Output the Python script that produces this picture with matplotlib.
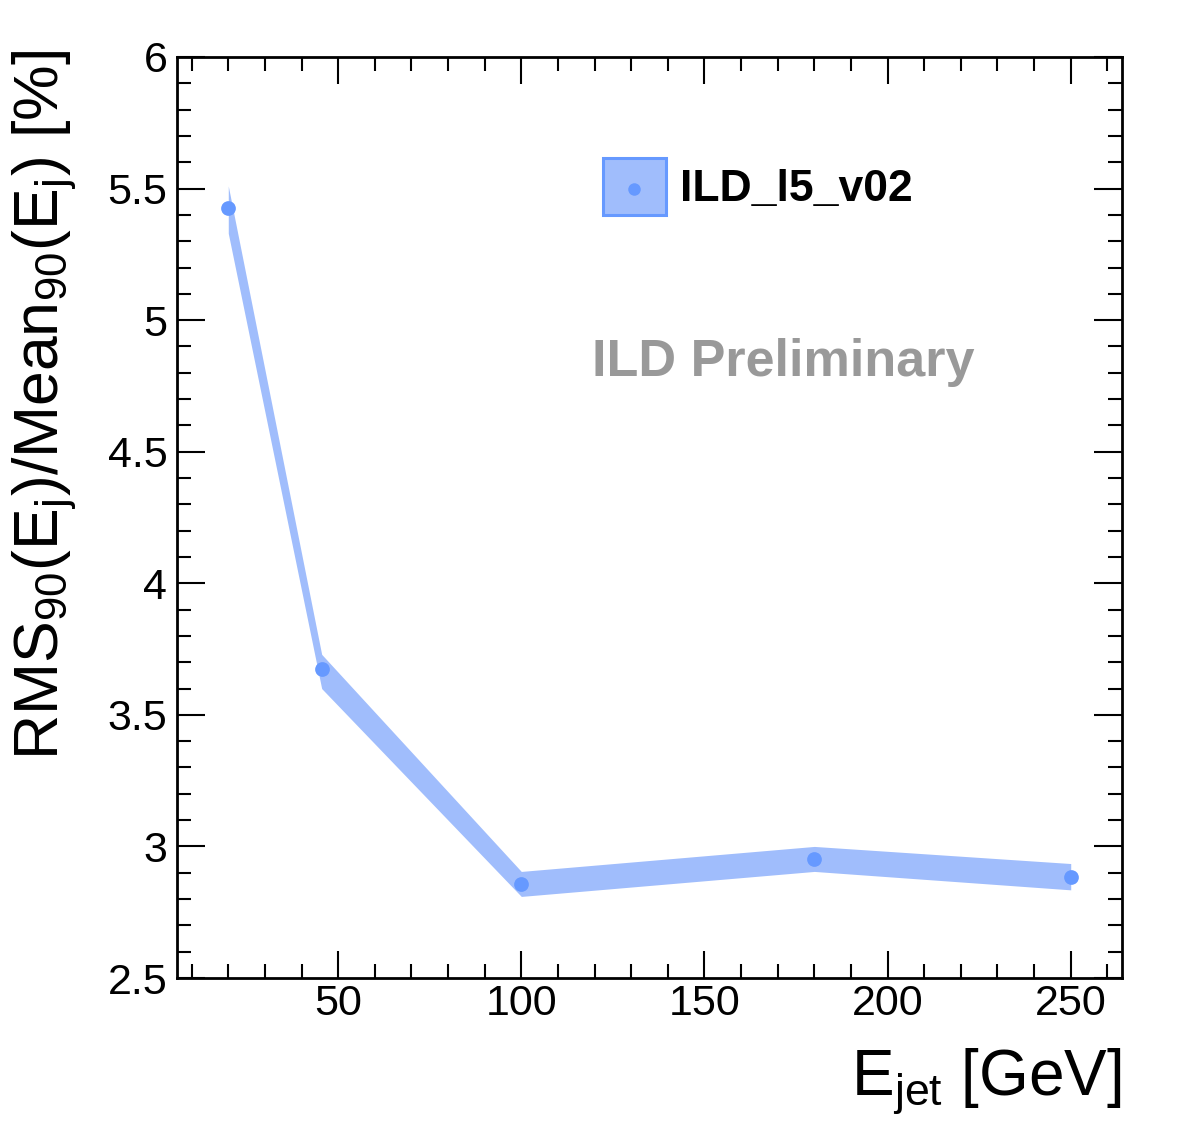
import matplotlib
matplotlib.use("Agg")
import matplotlib.pyplot as plt
from matplotlib.patches import Rectangle
from matplotlib.ticker import MultipleLocator

# Data
energies = [20, 45.5, 100, 180, 250]
resolution = [5.425, 3.673, 2.857, 2.952, 2.883]
band_upper = [5.51, 3.73, 2.905, 3.00, 2.935]
band_lower = [5.33, 3.60, 2.810, 2.905, 2.835]
series_label = "ILD_l5_v02"

blue = "#6699ff"
band_col = "#a0bdfc"

plt.rcParams['font.family'] = ['Liberation Sans', 'DejaVu Sans']
plt.rcParams['mathtext.fontset'] = 'custom'
plt.rcParams['mathtext.rm'] = 'Liberation Sans'
plt.rcParams['mathtext.it'] = 'Liberation Sans'
plt.rcParams['mathtext.bf'] = 'Liberation Sans:bold'

fig = plt.figure(figsize=(11.82, 11.38), dpi=100)
ax = fig.add_axes([177/1182, 1 - 978/1138, 945/1182, 921/1138])

ax.fill_between(energies, band_lower, band_upper, color=band_col, linewidth=0, zorder=2)
ax.plot(energies, resolution, linestyle='none', marker='o', markersize=10.6,
        color=blue, markeredgewidth=0, zorder=3)

ax.set_xlim(6, 264)
ax.set_ylim(2.5, 6.0)
ax.xaxis.set_major_locator(MultipleLocator(50))
ax.xaxis.set_minor_locator(MultipleLocator(10))
ax.yaxis.set_minor_locator(MultipleLocator(0.1))
ax.set_yticks([2.5, 3, 3.5, 4, 4.5, 5, 5.5, 6])
ax.set_yticklabels(["2.5", "3", "3.5", "4", "4.5", "5", "5.5", "6"])

ax.tick_params(which='both', direction='in', top=True, right=True, width=1.5,
               labelsize=31, colors='black')
ax.tick_params(axis='x', which='major', length=19.5, pad=4)
ax.tick_params(axis='y', which='major', length=20.5, pad=7)
ax.tick_params(which='minor', length=10)
for s in ax.spines.values():
    s.set_linewidth(2)

# axis titles
ax.text(1.0, -0.1275, r"E$_{\mathrm{jet}}$ [GeV]", transform=ax.transAxes,
        ha='right', va='baseline', fontsize=46)
ax.text(-0.176, 1.008, r"RMS$_{90}$(E$_{\mathrm{j}}$)/Mean$_{90}$(E$_{\mathrm{j}}$) [%]",
        transform=ax.transAxes, rotation=90, ha='right', va='top',
        rotation_mode='anchor', fontsize=45)

# legend (manual)
ax.add_patch(Rectangle((0.4508, 0.8284), 0.0667, 0.0619, transform=ax.transAxes,
                       facecolor=band_col, edgecolor=blue, linewidth=2.2, zorder=4))
ax.plot([0.4841], [0.8567], marker='o', markersize=9, color=blue, markeredgewidth=0,
        transform=ax.transAxes, zorder=5)
ax.text(0.5323, 0.8556, series_label, transform=ax.transAxes, ha='left', va='center',
        fontsize=32, fontweight='bold')

ax.text(0.4392, 0.6688, "ILD Preliminary", transform=ax.transAxes, ha='left', va='center',
        fontsize=37.5, fontweight='bold', color='#999999')

fig.savefig("out.png", dpi=100)
